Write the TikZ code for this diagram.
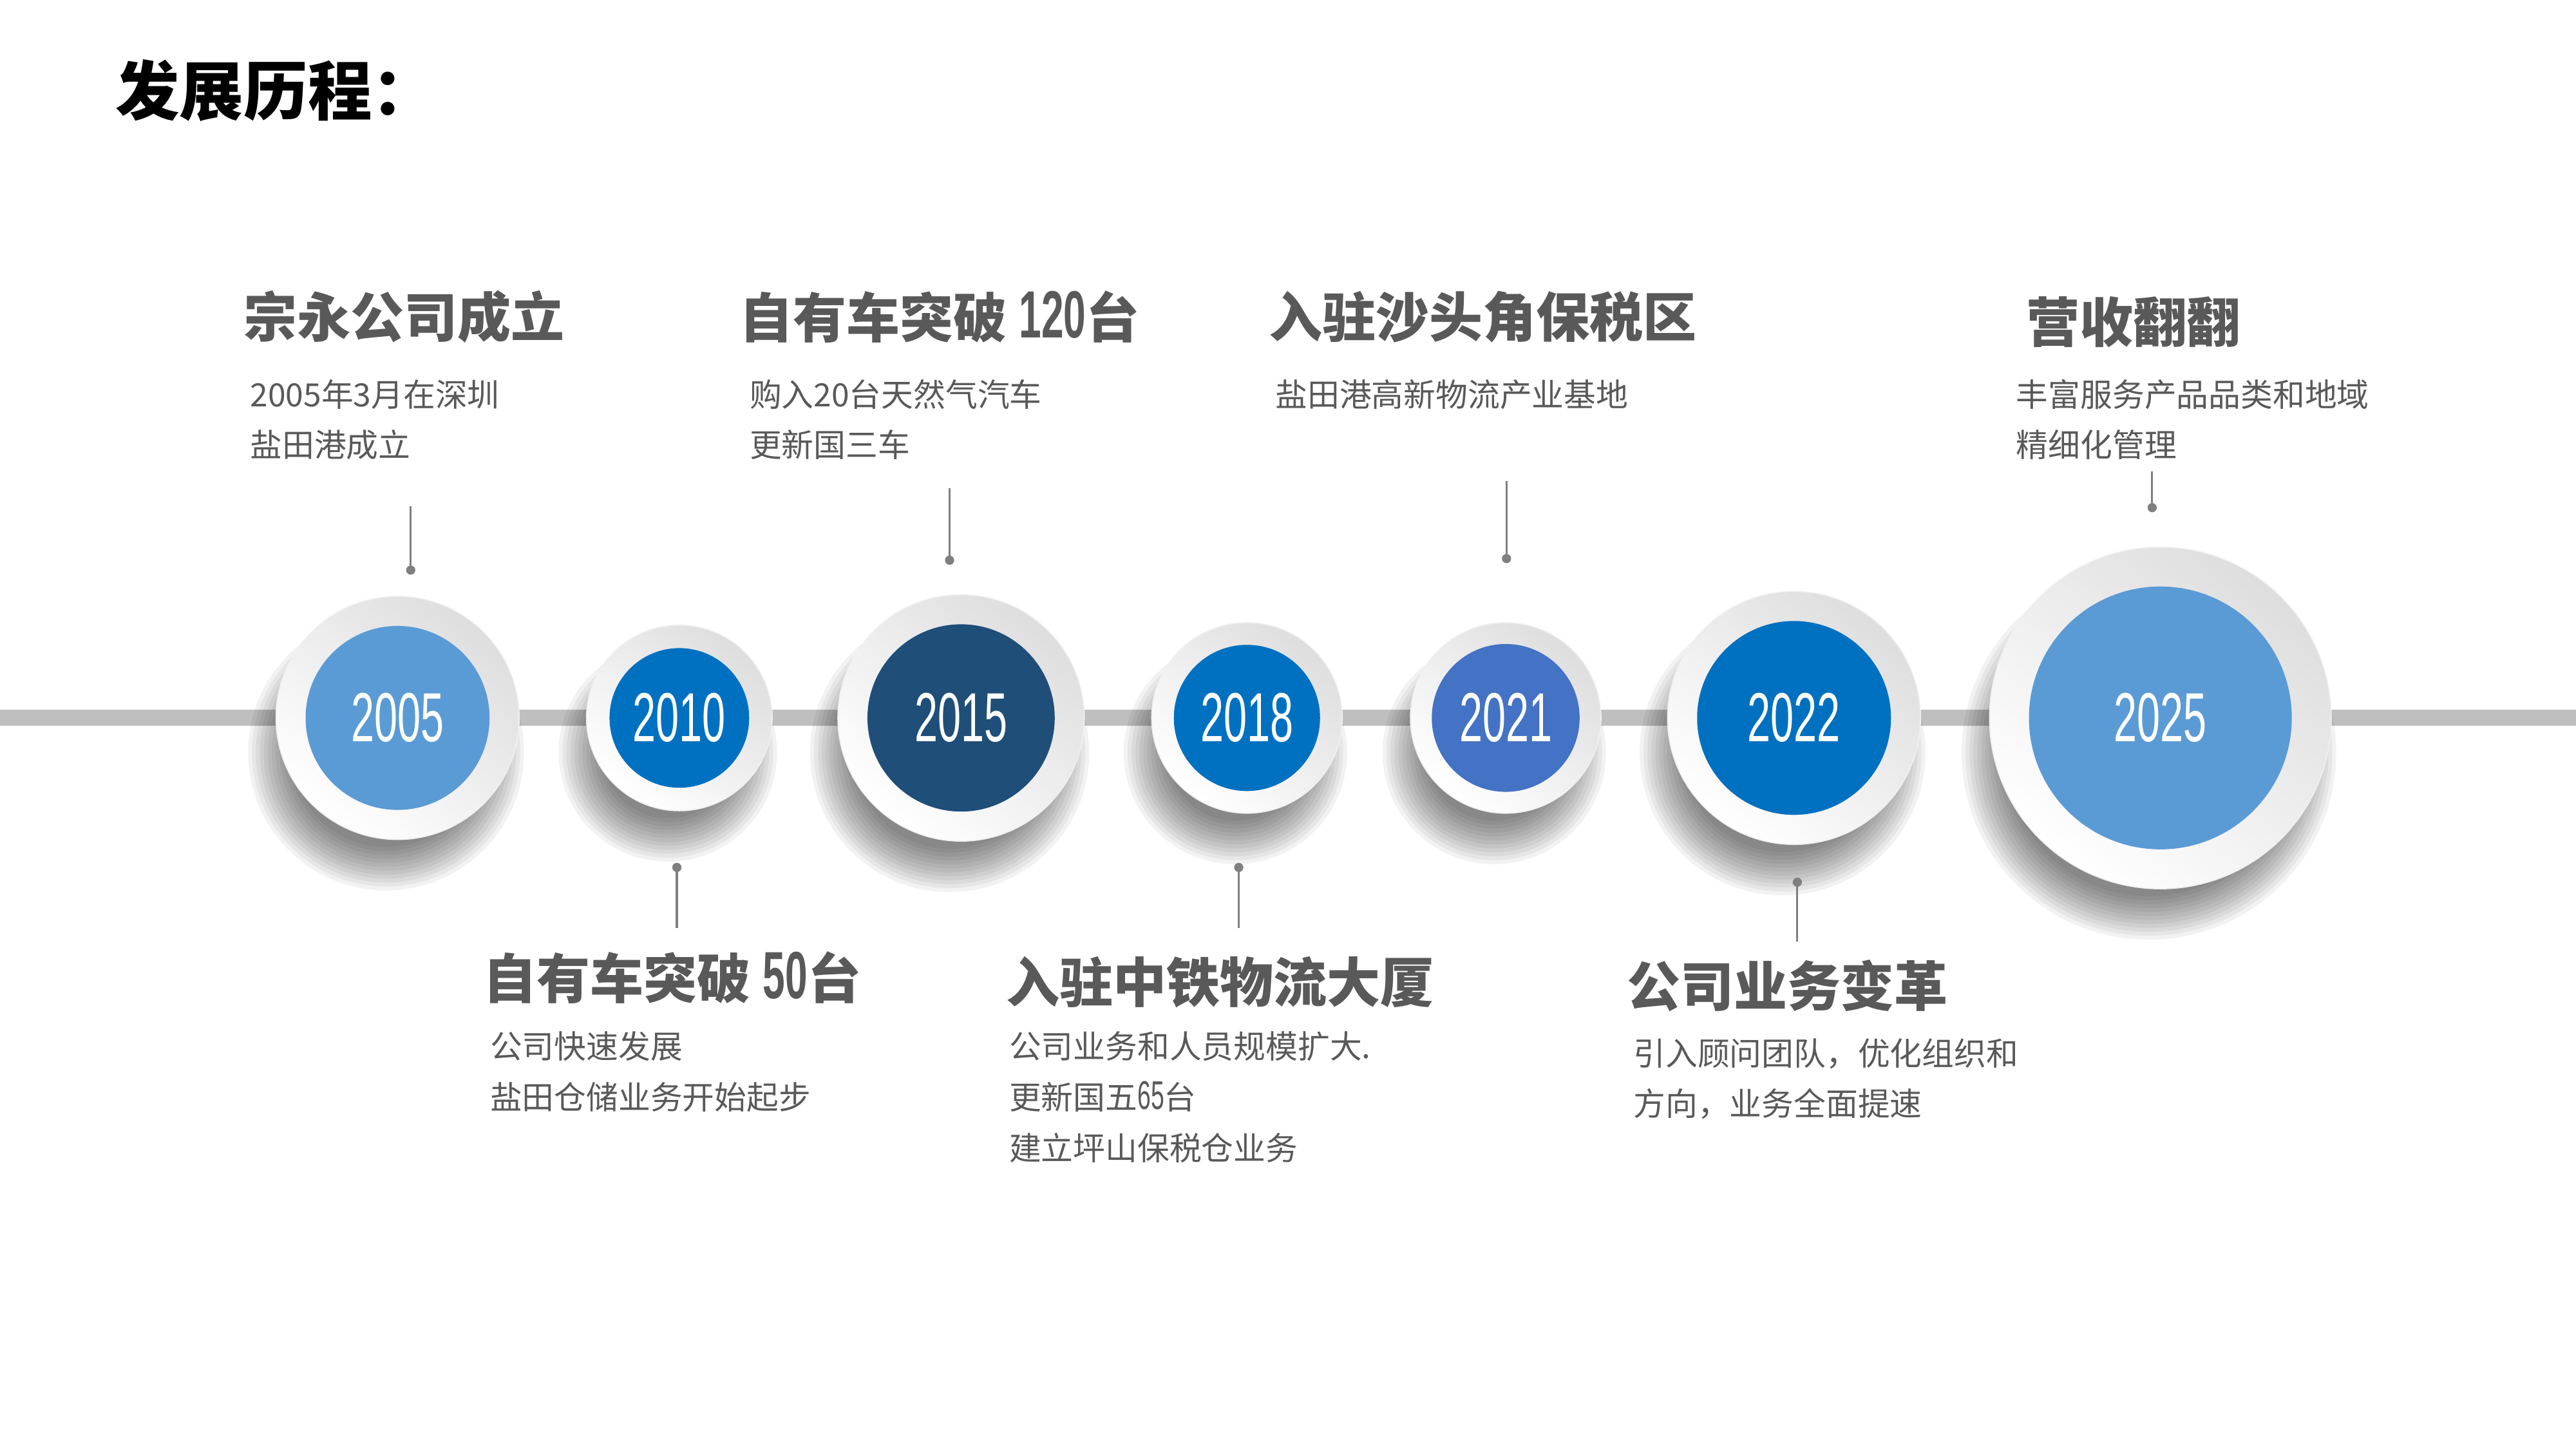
\documentclass[tikz,border=0pt]{standalone}
\usepackage{fontspec}
\setmainfont{Noto Sans CJK SC}
\newfontfamily\yearfont[FakeStretch=0.6]{Liberation Sans}
\newfontfamily\numfont[FakeStretch=0.6]{Liberation Sans}
\usepackage{xcolor}
\usetikzlibrary{positioning}
\definecolor{lblue}{HTML}{5B9BD5}
\definecolor{mblue}{HTML}{0070C0}
\definecolor{navy}{HTML}{1F4E79}
\definecolor{rblue}{HTML}{4472C4}
\definecolor{txtg}{HTML}{595959}
\definecolor{stemg}{HTML}{7F7F7F}
\definecolor{lineg}{HTML}{BFBFBF}
\newcommand\bignum[2]{{\numfont\fontsize{#1}{#1}\selectfont #2}}
\tikzset{
  yearlbl/.style={text=white,font=\yearfont\fontsize{26}{27}\selectfont,inner sep=0pt},
  headtxt/.style={anchor=west,text=txtg,font=\fontsize{20}{24}\selectfont\bfseries,inner sep=0pt},
  subtxt/.style={anchor=base west,text=txtg,align=left,font=\fontsize{12}{19}\selectfont,inner sep=0pt},
  stem/.style={draw=stemg,line width=0.75pt},
  pin/.style={fill=stemg}
}
\begin{document}
\begin{tikzpicture}[x=0.0216cm,y=-0.0216cm]
\useasboundingbox (0,0) rectangle (1568,882);
\node[anchor=west,inner sep=0pt,font=\fontsize{24}{28}\selectfont\bfseries] (title) at (70,55) {发展历程：};
% timeline
\coordinate (lineL) at (0,437);
\coordinate (lineR) at (1568,437);
\draw[lineg,line width=6pt] (lineL) -- (lineR);
% year discs
\foreach \cx/\ro/\ri/\col/\yr in {242/74/56/lblue/2005,413.5/56.5/42.5/mblue/2010,585/75/57/navy/2015,
  759/58/44.5/mblue/2018,916.5/58/45/rblue/2021,1092/77/59/mblue/2022,1315/104/80/lblue/2025}{
  \foreach \k in {0,...,11}
    \fill[black,opacity=0.05] (\cx-7,458) circle ({\ro+10-2.4*\k});
  \shade[top color=black!13,bottom color=white,shading angle=-40,draw=black!6,line width=0.4pt] (\cx,437) circle (\ro);
  \fill[\col] (\cx,437) circle (\ri);
  \node[yearlbl] (c\yr) at (\cx,437) {\yr};
}
% stems
\foreach \px/\ya/\yb/\nm in {250/308/347/05,578/297/341/15,917/293/340/21,1310/287/309/25,
  412/565/528/10,754/565/528/18,1094/573/537/22}{
  \coordinate (s\nm) at (\px,\ya);
  \coordinate (p\nm) at (\px,\yb);
  \draw[stem] (s\nm) -- (p\nm);
  \fill[pin] (p\nm) circle (2.8);
}
% upper texts (subtxt sits on the baseline of its last line)
\node[headtxt] (h05) at (148,193) {宗永公司成立};
\node[subtxt] (t05) at (152,278.3) {2005年3月在深圳\\盐田港成立};
\node[headtxt] (h15) at (450,193) {自有车突破 \bignum{25}{120}台};
\node[subtxt] (t15) at (456,278.3) {购入20台天然气汽车\\更新国三车};
\node[headtxt] (h21) at (772,193) {入驻沙头角保税区};
\node[subtxt] (t21) at (776,247.4) {盐田港高新物流产业基地};
\node[headtxt] (h25) at (1233,196) {营收翻翻};
\node[subtxt] (t25) at (1227,278.3) {丰富服务产品品类和地域\\精细化管理};
% lower texts
\node[headtxt] (h10) at (294,595) {自有车突破 \bignum{25}{50}台};
\node[subtxt] (t10) at (298,675.3) {公司快速发展\\盐田仓储业务开始起步};
\node[headtxt] (h18) at (612,598) {入驻中铁物流大厦};
\node[subtxt] (t18) at (614,706.2) {公司业务和人员规模扩大.\\更新国五\bignum{15}{65}台\\建立坪山保税仓业务};
\node[headtxt] (h22) at (990,600) {公司业务变革};
\node[subtxt] (t22) at (994,679.3) {引入顾问团队，优化组织和\\方向，业务全面提速};
\end{tikzpicture}
\end{document}
